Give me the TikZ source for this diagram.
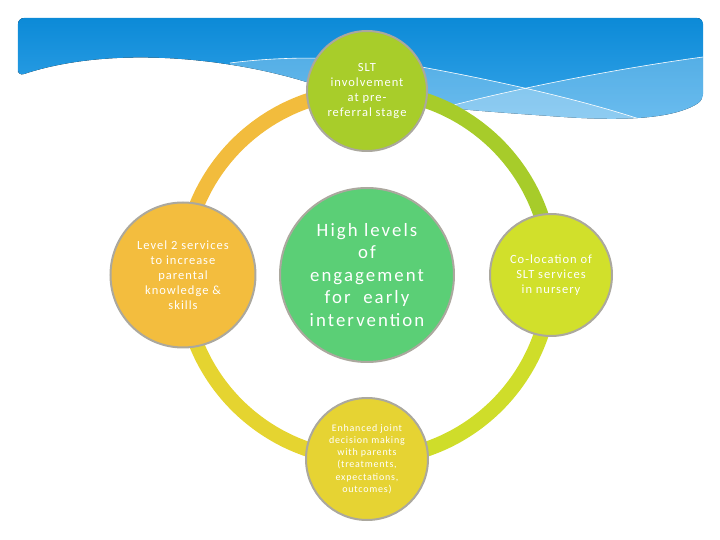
\documentclass[tikz,border=0pt]{standalone}
\usepackage{fontspec}
\setmainfont{Carlito}[LetterSpace=8]
\usetikzlibrary{backgrounds}

\definecolor{bannertop}{HTML}{0C8AD7}
\definecolor{bannerlow}{HTML}{3AA7EA}
\definecolor{rimgray}{HTML}{ABA89E}
\definecolor{sltgreen}{HTML}{A8CD2A}
\definecolor{levelorange}{HTML}{F3BD3E}
\definecolor{coregreen}{HTML}{5BCF76}
\definecolor{nurserylime}{HTML}{D1E02B}
\definecolor{parentyellow}{HTML}{E6D333}
\definecolor{ringorange}{HTML}{F2BC3D}
\definecolor{ringgreen}{HTML}{A7CC2A}
\definecolor{ringlime}{HTML}{CFDD2A}
\definecolor{ringyellow}{HTML}{E5D430}

\begin{document}
\begin{tikzpicture}[x=1pt,y=1pt,align=center,
  bubble/.style={circle,draw=rimgray,line width=2pt,text=white,inner sep=0pt},
  ring/.style={line width=15pt}]
  \def \r {184pt}
  \useasboundingbox (-367,-265) rectangle (353,275);

  \node[bubble,fill=sltgreen,minimum size=120pt,
        font=\fontsize{12.5}{14.7}\selectfont] (involvement) at (90:\r)
        {SLT\\involvement\\at pre-\\referral stage};
  \node[bubble,fill=levelorange,minimum size=145pt,
        font=\fontsize{12.5}{15}\selectfont] (services) at (180:\r)
        {Level 2 services\\to increase\\parental\\knowledge \&\\skills};
  \node[bubble,fill=coregreen,minimum size=174pt,
        font=\fontsize{18.8}{22.5}\selectfont\addfontfeature{LetterSpace=11}] (engagement) at (0,0)
        {High levels\\of\\engagement\\for~ early\\intervention};
  \node[bubble,fill=nurserylime,minimum size=122pt,
        font=\fontsize{12.5}{15}\selectfont] (colocation) at (0:\r)
        {Co-location of\\SLT services\\in nursery};
  \node[bubble,fill=parentyellow,minimum size=122pt,
        font=\fontsize{10}{12.2}\selectfont] (decision) at (270:\r)
        {Enhanced joint\\decision making\\with parents\\(treatments,\\expectations,\\outcomes)};

  \begin{scope}[on background layer]
    %% banner with waves
    \begin{scope}
      \clip[rounded corners=6pt] (-349,199) -- (-349,257) -- (336,257) -- (336,175)
        .. controls (305,155) and (250,154) .. (183,159)
        .. controls (110,164) and (30,170) .. (-37,185)
        .. controls (-120,215) and (-250,232) .. (-349,199) -- cycle;
      \fill[top color=bannertop,bottom color=bannerlow] (-349,150) rectangle (336,257);
      \fill[white,opacity=0.25] (-137,212) .. controls (-60,222) and (20,215) .. (60,207)
        .. controls (120,196) and (220,175) .. (290,150) -- (290,140) -- (-137,140) -- cycle;
      \fill[white,opacity=0.25] (83,169) .. controls (140,184) and (240,205) .. (336,218)
        -- (336,140) -- (83,140) -- cycle;
      \draw[white,line width=0.6pt] (-137,212) .. controls (-60,222) and (20,215) .. (60,207)
        .. controls (120,196) and (220,175) .. (290,150);
      \draw[white,line width=0.6pt] (83,169) .. controls (140,184) and (240,205) .. (336,218);
    \end{scope}

    \draw[ring,draw=ringorange] (involvement.center) arc (90:180:\r);
    \draw[ring,draw=ringyellow] (services.center) arc (180:270:\r);
    \draw[ring,draw=ringlime] (decision.center) arc (270:360:\r);
    \draw[ring,draw=ringgreen] (colocation.center) arc (0:90:\r);
  \end{scope}
\end{tikzpicture}
\end{document}
